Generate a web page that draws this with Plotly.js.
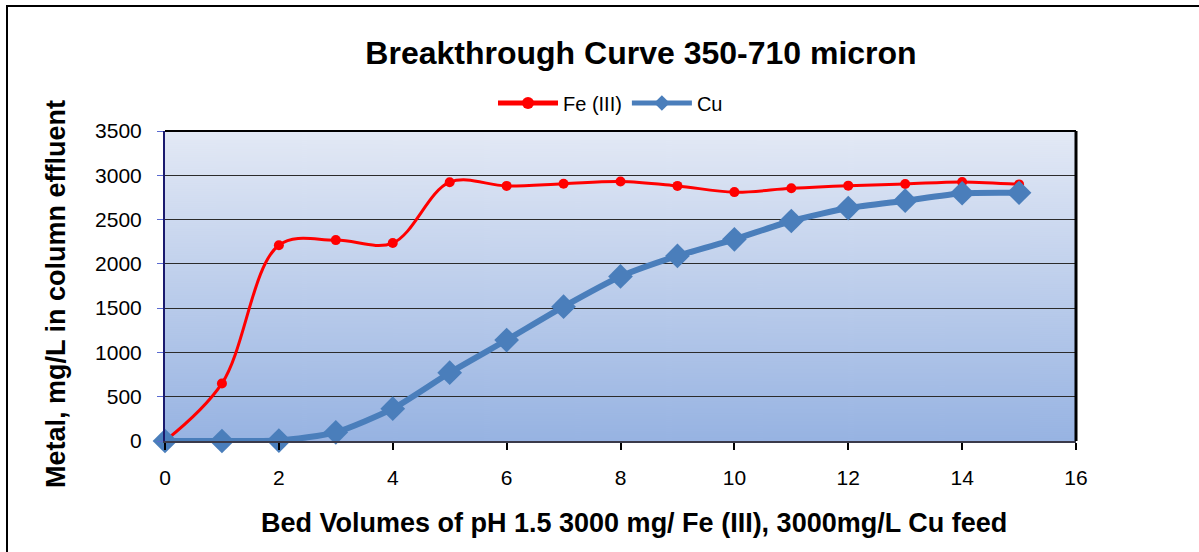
<!DOCTYPE html>
<html>
<head>
<meta charset="utf-8">
<script src="https://cdn.plot.ly/plotly-3.0.1.min.js"></script>
<style>
html,body{margin:0;padding:0;background:#fff;}
#chart{width:1199px;height:552px;}
</style>
</head>
<body>
<div id="chart"></div>
<script>
// Data
const bedVolumes = [0,1,2,3,4,5,6,7,8,9,10,11,12,13,14,15];
const feIII = [0,650,2210,2268,2235,2922,2880,2905,2930,2880,2810,2853,2883,2902,2925,2897];
const cu = [0,0,5,98,365,771,1140,1517,1858,2090,2277,2484,2630,2713,2797,2803];
const yTicks = [0,500,1000,1500,2000,2500,3000,3500];
const xTicks = [0,2,4,6,8,10,12,14,16];

// background gradient image
const cv = document.createElement('canvas');
cv.width = 10; cv.height = 310;
const ctx = cv.getContext('2d');
const g = ctx.createLinearGradient(0,0,0,310);
g.addColorStop(0,'#E3E9F5');
g.addColorStop(1,'#97B3E2');
ctx.fillStyle = g;
ctx.fillRect(0,0,10,310);
const bgURL = cv.toDataURL('image/png');

const font = 'Liberation Sans, Arial, sans-serif';

const traces = [
  {
    x: bedVolumes, y: feIII, name: 'Fe (III)', type: 'scatter', mode: 'lines+markers',
    line: {color: '#FF0000', width: 3, shape: 'spline', smoothing: 1},
    marker: {symbol: 'circle', size: 10, color: '#FF0000'}, cliponaxis: false
  },
  {
    x: bedVolumes, y: cu, name: 'Cu', type: 'scatter', mode: 'lines+markers',
    line: {color: '#4A7EBB', width: 6, shape: 'spline', smoothing: 0.6},
    marker: {symbol: 'diamond', size: 19, color: '#4A7EBB'}, cliponaxis: false
  }
];

const layout = {
  width: 1199, height: 552,
  margin: {l: 165, r: 123, t: 131, b: 111},
  paper_bgcolor: '#FFFFFF',
  plot_bgcolor: 'rgba(0,0,0,0)',
  showlegend: true,
  font: {family: font, color: '#000'},
  title: {
    text: '<b>Breakthrough Curve 350-710 micron</b>',
    font: {family: font, size: 32, color: '#000'},
    x: 641/1199, xanchor: 'center', xref: 'container',
    y: 1 - 53/552, yanchor: 'middle', yref: 'container'
  },
  legend: {
    orientation: 'h', x: (493-165)/911, xanchor: 'left', y: (441-103)/310, yanchor: 'middle',
    font: {family: font, size: 20, color: '#000'},
    bgcolor: 'rgba(0,0,0,0)', tracegroupgap: 0, itemwidth: 60, itemsizing: 'constant'
  },
  xaxis: {
    range: [0,16], tickvals: xTicks, ticktext: xTicks.map(String),
    showgrid: false, zeroline: false,
    showline: true, linecolor: '#3a3a4a', linewidth: 2,
    ticks: 'outside', ticklen: 7, tickcolor: '#000', tickwidth: 2,
    ticklabelstandoff: 10,
    tickfont: {family: font, size: 21, color: '#000'}
  },
  yaxis: {
    range: [0,3500], tickvals: yTicks, ticktext: yTicks.map(String),
    showgrid: true, gridcolor: '#2b2b2b', gridwidth: 1, zeroline: false,
    showline: true, linecolor: '#1a1a6e', linewidth: 2,
    ticks: 'outside', ticklen: 6, tickcolor: '#5a6ad0', tickwidth: 1,
    ticklabelstandoff: 11,
    tickfont: {family: font, size: 21, color: '#000'}
  },
  annotations: [
    {text: '<b>Bed Volumes of pH 1.5 3000 mg/ Fe (III), 3000mg/L Cu feed</b>',
     xref: 'paper', yref: 'paper', x: (634-165)/911, y: (441-523)/310,
     xanchor: 'center', yanchor: 'middle', showarrow: false,
     font: {family: font, size: 27, color: '#000'}},
    {text: '<b>Metal, mg/L in column effluent</b>',
     xref: 'paper', yref: 'paper', x: (56-165)/911, y: (441-294)/310,
     xanchor: 'center', yanchor: 'middle', showarrow: false, textangle: -90,
     font: {family: font, size: 27, color: '#000'}}
  ],
  images: [{
    source: bgURL, xref: 'paper', yref: 'paper', x: 0, y: 1, sizex: 1, sizey: 1,
    sizing: 'stretch', xanchor: 'left', yanchor: 'top', layer: 'below'
  }],
  shapes: [
    {type: 'line', xref: 'paper', yref: 'paper', x0: 0, x1: 1, y0: 1, y1: 1, line: {color: '#000', width: 2}},
    {type: 'line', xref: 'paper', yref: 'paper', x0: 1, x1: 1, y0: 0, y1: 1, line: {color: '#000', width: 3}},
    {type: 'rect', xref: 'paper', yref: 'paper',
     x0: (7-165)/911, x1: (1210-165)/911, y0: (441-560)/310, y1: (441-6)/310,
     line: {color: '#000', width: 2}, fillcolor: 'rgba(0,0,0,0)', layer: 'below'}
  ]
};

Plotly.newPlot('chart', traces, layout, {displayModeBar: false, staticPlot: true});
</script>
</body>
</html>
